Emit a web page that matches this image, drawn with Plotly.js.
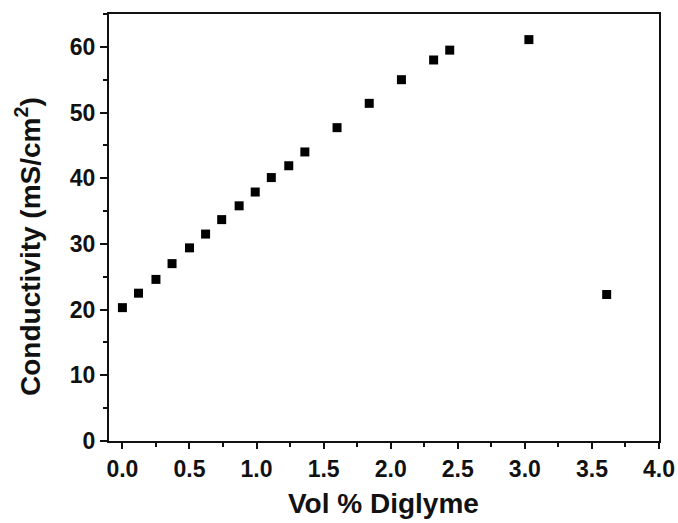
<!DOCTYPE html>
<html>
<head>
<meta charset="utf-8">
<script src="https://cdn.plot.ly/plotly-3.0.1.min.js"></script>
<style>html,body{margin:0;padding:0;background:#fff}#chart{width:678px;height:523px}</style>
</head>
<body>
<div id="chart"></div>
<script>
var volDiglyme = [0.0, 0.12, 0.25, 0.37, 0.50, 0.62, 0.74, 0.87, 0.99, 1.11, 1.24, 1.36, 1.60, 1.84, 2.08, 2.32, 2.44, 3.03, 3.61];
var conductivity = [20.3, 22.5, 24.6, 27.0, 29.4, 31.5, 33.7, 35.8, 37.9, 40.1, 41.9, 44.0, 47.7, 51.4, 55.0, 58.0, 59.5, 61.1, 22.3];
var xTickVals = [0, 0.5, 1, 1.5, 2, 2.5, 3, 3.5, 4];
var xTickText = ["0.0", "0.5", "1.0", "1.5", "2.0", "2.5", "3.0", "3.5", "4.0"];
var yTickVals = [0, 10, 20, 30, 40, 50, 60];
var xTitle = "Vol % Diglyme";
var yTitle = "Conductivity (mS/cm<sup>2</sup>)";

var font = "Liberation Sans, Arial, sans-serif";
var W = 678, H = 523, ML = 109, MR = 19, MT = 14, MB = 82;
var PW = W - ML - MR, PH = H - MT - MB;
var trace = {
  x: volDiglyme, y: conductivity, type: "scatter", mode: "markers",
  marker: {symbol: "square", size: 9, color: "#000"},
  cliponaxis: false
};
var layout = {
  width: W, height: H,
  margin: {l: ML, r: MR, t: MT, b: MB},
  paper_bgcolor: "#fff", plot_bgcolor: "#fff",
  showlegend: false,
  font: {family: font, color: "#111"},
  xaxis: {
    range: [-0.1, 4.0], tickmode: "array", tickvals: xTickVals, ticktext: xTickText,
    ticks: "outside", ticklen: 6, tickwidth: 2, tickcolor: "#111",
    showline: true, linewidth: 2, linecolor: "#111", mirror: true,
    showgrid: false, zeroline: false,
    tickfont: {family: font, size: 23, weight: "bold", color: "#111"},
    minor: {ticks: "outside", dtick: 0.25, tick0: 0, ticklen: 4, tickwidth: 2, tickcolor: "#111", showgrid: false},
    automargin: false
  },
  yaxis: {
    range: [0, 65], tickmode: "array", tickvals: yTickVals,
    ticks: "outside", ticklen: 7, tickwidth: 2, tickcolor: "#111",
    showline: true, linewidth: 2, linecolor: "#111", mirror: true,
    showgrid: false, zeroline: false,
    tickfont: {family: font, size: 23, weight: "bold", color: "#111"},
    minor: {ticks: "outside", dtick: 5, tick0: 0, ticklen: 4, tickwidth: 2, tickcolor: "#111", showgrid: false},
    automargin: false
  },
  annotations: [
    {text: xTitle, xref: "paper", yref: "paper", x: (383 - ML) / PW, y: (H - MB - 503) / PH,
     xanchor: "center", yanchor: "middle", showarrow: false,
     font: {family: font, size: 28, weight: "bold", color: "#111"}},
    {text: yTitle, xref: "paper", yref: "paper", x: (28 - ML) / PW, y: (H - MB - 247) / PH,
     xanchor: "center", yanchor: "middle", showarrow: false, textangle: -90,
     font: {family: font, size: 28, weight: "bold", color: "#111"}}
  ]
};
Plotly.newPlot("chart", [trace], layout, {displayModeBar: false, staticPlot: true});
</script>
</body>
</html>
